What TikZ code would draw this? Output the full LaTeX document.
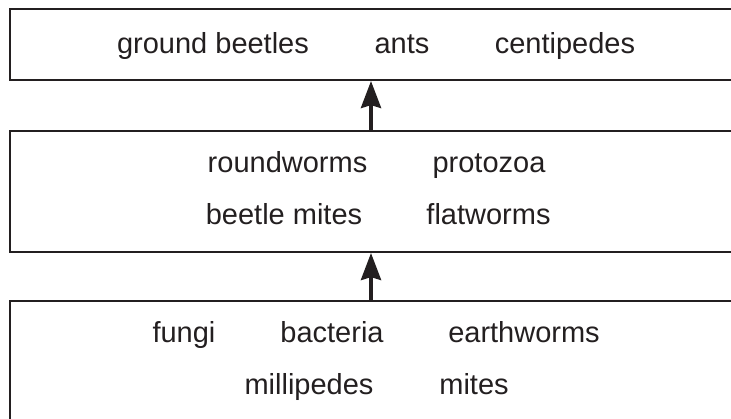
\documentclass[tikz,border=0pt]{standalone}
\usepackage{fontspec}
\setmainfont{Liberation Sans}
\usetikzlibrary{arrows.meta}
\definecolor{ink}{HTML}{231F20}

\begin{document}
\begin{tikzpicture}[x=1pt, y=-1pt,
  level/.style={draw=ink, line width=2pt, rectangle, minimum width=722pt, inner sep=0pt},
  lbl/.style={anchor=base, text=ink, font=\fontsize{29}{34}\selectfont, inner sep=0pt},
  up/.style={draw=ink, line width=4pt, -{Stealth[length=27pt, width=20pt, inset=3pt]}}]
 \useasboundingbox (0,0) rectangle (731,419);
 \clip (0,0) rectangle (731,419);
 % the three levels, open to the right and below
 \node[level, minimum height=71pt] (top) at (371,44.5) {};
 \node[level, minimum height=121pt] (mid) at (371,191.5) {};
 \node[level, minimum height=121pt] (bot) at (371,361.5) {};
 \draw[up] (mid.north) -- (top.south);
 \draw[up] (bot.north) -- (mid.south);
 \foreach \n/\t/\x/\y in {gb/ground beetles/213/54, ants/ants/402/54, cent/centipedes/565/54,
   round/roundworms/287.5/173, proto/protozoa/489/173, bmites/beetle mites/284/225, flat/flatworms/488.5/225,
   fungi/fungi/184/343, bact/bacteria/332/343, earth/earthworms/524/343, milli/millipedes/309/395, mites/mites/474/395}
   \node[lbl] (\n) at (\x,\y) {\t};
\end{tikzpicture}
\end{document}
